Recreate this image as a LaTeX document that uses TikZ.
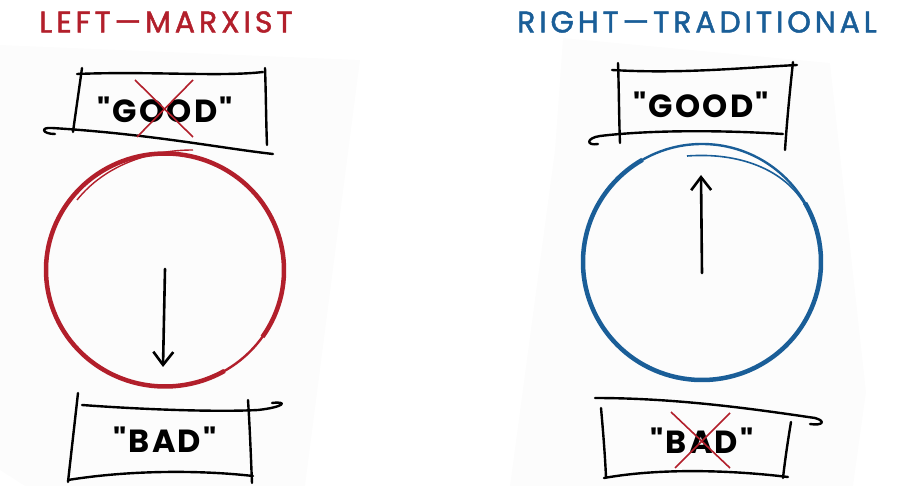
\documentclass[tikz,border=0pt]{standalone}
\usepackage{fontspec}
\usetikzlibrary{arrows.meta}
\newfontfamily\titlefont[LetterSpace=13,FakeBold=1.6]{Poppins}
\newfontfamily\boxfont[LetterSpace=7]{Poppins}
\definecolor{mred}{HTML}{B21F2B}
\definecolor{mblue}{HTML}{1A5E98}
\definecolor{paper}{HTML}{FCFCFC}
\tikzset{
  ttl/.style={font=\titlefont\fontsize{30}{33}\selectfont, inner sep=0pt, anchor=center},
  word/.style={font=\boxfont\bfseries\fontsize{32}{36}\selectfont, inner sep=0pt, text=black},
  ink/.style={draw=black, line width=2.4pt, line cap=round, line join=round},
  cross/.style={draw=mred, line width=1.6pt},
  pointer/.style={draw=black, line width=2.6pt, line cap=round, -{Straight Barb[length=13pt,width=20pt,line width=2.6pt]}},
}
\begin{document}
\begin{tikzpicture}[x=1pt,y=-1pt]
\useasboundingbox (0,0) rectangle (906,486);
% scanned paper
\fill[paper] (0,45) -- (360,60) -- (305,486) -- (25,486) -- (0,470) -- cycle;
\fill[paper] (563,38) -- (830,63) -- (866,392) -- (853,486) -- (510,486) -- (555,150) -- cycle;

% titles
\node[ttl, text=mred] (tl) at (166,22) {LEFT—MARXIST};
\node[ttl, text=mblue] (tr) at (697,22) {RIGHT—TRADITIONAL};

% ---------- LEFT ----------
% GOOD box
\node[word] (lgood) at (165,110) {"GOOD"};
\draw[ink] (77,74) .. controls (150,71) and (220,77) .. (263,72);
\draw[ink] (82,68) .. controls (79,90) and (76,110) .. (73,132);
\draw[ink] (265,68) .. controls (266,95) and (266,120) .. (267,145);
\draw[ink] (55,134) .. controls (42,134) and (40,127) .. (52,128) .. controls (150,134) and (220,148) .. (273,154);
\draw[cross] (135,80) -- (193,137);
\draw[cross] (193,80) -- (137,137);

% circle
\coordinate (lc) at (165,270);
\draw[mred, line width=2.4pt] (lc) ellipse [x radius=119, y radius=116.5];
\draw[mred, line width=4.5pt] (lc) ++(35:119 and 116.5) arc [start angle=35, end angle=-300, x radius=119, y radius=116.5];
\draw[mred, line width=1.4pt] (77,200) .. controls (105,165) and (150,150) .. (193,150);
\coordinate (la1) at (165,269);
\coordinate (la2) at (163,367);
\draw[pointer] (la1) -- (la2);

% BAD box
\node[word] (lbad) at (165,440) {"BAD"};
\draw[ink] (82,405) .. controls (150,410) and (220,412) .. (258,410) .. controls (285,407) and (288,401) .. (272,403);
\draw[ink] (78,393) .. controls (75,420) and (71,455) .. (68,482);
\draw[ink] (248,400) .. controls (250,430) and (251,460) .. (252,483);
\draw[ink] (68,480) .. controls (130,470) and (200,470) .. (253,476);

% ---------- RIGHT ----------
% GOOD box
\node[word] (rgood) at (701,105) {"GOOD"};
\draw[ink] (612,70) .. controls (680,74) and (740,68) .. (797,65);
\draw[ink] (618,63) .. controls (619,90) and (619,120) .. (620,143);
\draw[ink] (793,62) .. controls (790,90) and (787,120) .. (785,150);
\draw[ink] (783,134) .. controls (720,130) and (650,130) .. (600,136) .. controls (586,138) and (586,146) .. (598,144);

% circle
\coordinate (rc) at (702,262);
\draw[mblue, line width=2.4pt] (rc) ellipse [x radius=119, y radius=118];
\draw[mblue, line width=4.5pt] (rc) ++(-30:119 and 118) arc [start angle=-30, end angle=240, x radius=119, y radius=118];
\draw[mblue, line width=1.6pt] (687,156) .. controls (740,152) and (785,170) .. (805,205);
\coordinate (ra1) at (702,273);
\coordinate (ra2) at (701,175);
\draw[pointer] (ra1) -- (ra2);

% BAD box
\node[word] (rbad) at (702,441) {"BAD"};
\draw[ink] (595,398) .. controls (680,398) and (760,410) .. (815,418) .. controls (826,421) and (823,426) .. (810,424);
\draw[ink] (601,408) .. controls (603,430) and (605,455) .. (606,477);
\draw[ink] (791,422) .. controls (788,440) and (785,460) .. (783,478);
\draw[ink] (604,478) .. controls (660,468) and (730,470) .. (788,477);
\draw[cross] (671,412) -- (730,468);
\draw[cross] (730,413) -- (675,468);
\end{tikzpicture}
\end{document}
